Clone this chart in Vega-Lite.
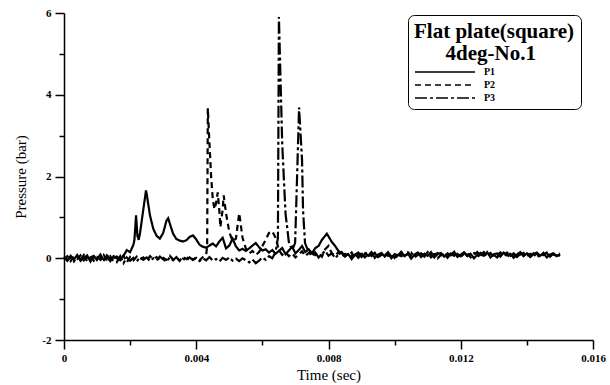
{
"$schema":"https://vega.github.io/schema/vega-lite/v6.json",
"width":529,"height":327,"autosize":"none",
"padding":{"left":64,"top":13,"right":17,"bottom":45},
"background":"white",
"config":{"view":{"stroke":null},"font":"Liberation Serif"},
"data":{"values":[
{"s":"P1","t":0.0000,"p":0.02},{"s":"P1","t":0.0001,"p":-0.05},{"s":"P1","t":0.0002,"p":0.06},{"s":"P1","t":0.0003,"p":-0.03},{"s":"P1","t":0.0004,"p":0.08},{"s":"P1","t":0.0005,"p":-0.06},{"s":"P1","t":0.0006,"p":0.01},{"s":"P1","t":0.0007,"p":0.07},{"s":"P1","t":0.0008,"p":-0.08},{"s":"P1","t":0.0009,"p":0.04},
{"s":"P1","t":0.0010,"p":-0.02},{"s":"P1","t":0.0011,"p":0.09},{"s":"P1","t":0.0012,"p":-0.04},{"s":"P1","t":0.0013,"p":0.03},{"s":"P1","t":0.0014,"p":-0.07},{"s":"P1","t":0.0015,"p":0.05},{"s":"P1","t":0.0016,"p":0.00},{"s":"P1","t":0.0017,"p":-0.05},{"s":"P1","t":0.0018,"p":0.06},{"s":"P1","t":0.0019,"p":0.2},
{"s":"P1","t":0.0020,"p":0.15},{"s":"P1","t":0.0021,"p":0.33},{"s":"P1","t":0.00213,"p":0.45},{"s":"P1","t":0.00218,"p":1.05},{"s":"P1","t":0.00222,"p":0.55},{"s":"P1","t":0.00226,"p":0.45},{"s":"P1","t":0.0023,"p":0.62},{"s":"P1","t":0.0024,"p":1.2},{"s":"P1","t":0.00248,"p":1.66},{"s":"P1","t":0.0025,"p":1.58},
{"s":"P1","t":0.0026,"p":1.05},{"s":"P1","t":0.0027,"p":0.72},{"s":"P1","t":0.0028,"p":0.55},{"s":"P1","t":0.0029,"p":0.48},{"s":"P1","t":0.0030,"p":0.62},{"s":"P1","t":0.0031,"p":0.92},{"s":"P1","t":0.00315,"p":0.98},{"s":"P1","t":0.0032,"p":0.85},{"s":"P1","t":0.0033,"p":0.6},{"s":"P1","t":0.0034,"p":0.47},
{"s":"P1","t":0.0035,"p":0.43},{"s":"P1","t":0.0036,"p":0.41},{"s":"P1","t":0.0037,"p":0.44},{"s":"P1","t":0.0038,"p":0.52},{"s":"P1","t":0.0039,"p":0.56},{"s":"P1","t":0.0040,"p":0.46},{"s":"P1","t":0.0041,"p":0.33},{"s":"P1","t":0.0042,"p":0.28},{"s":"P1","t":0.0043,"p":0.26},{"s":"P1","t":0.0044,"p":0.31},
{"s":"P1","t":0.0045,"p":0.36},{"s":"P1","t":0.0046,"p":0.29},{"s":"P1","t":0.0047,"p":0.41},{"s":"P1","t":0.0048,"p":0.5},{"s":"P1","t":0.0049,"p":0.24},{"s":"P1","t":0.0050,"p":0.31},{"s":"P1","t":0.0051,"p":0.48},{"s":"P1","t":0.0052,"p":0.29},{"s":"P1","t":0.0053,"p":0.19},{"s":"P1","t":0.0054,"p":0.23},
{"s":"P1","t":0.0055,"p":0.18},{"s":"P1","t":0.0056,"p":0.24},{"s":"P1","t":0.0057,"p":0.31},{"s":"P1","t":0.0058,"p":0.37},{"s":"P1","t":0.0059,"p":0.27},{"s":"P1","t":0.0060,"p":0.19},{"s":"P1","t":0.0061,"p":0.22},{"s":"P1","t":0.0062,"p":0.14},{"s":"P1","t":0.0063,"p":0.2},{"s":"P1","t":0.0064,"p":0.11},
{"s":"P1","t":0.0065,"p":0.18},{"s":"P1","t":0.0066,"p":0.25},{"s":"P1","t":0.0067,"p":0.1},{"s":"P1","t":0.0068,"p":0.19},{"s":"P1","t":0.0069,"p":0.28},{"s":"P1","t":0.0070,"p":0.12},{"s":"P1","t":0.0071,"p":0.2},{"s":"P1","t":0.0072,"p":0.3},{"s":"P1","t":0.0073,"p":0.15},{"s":"P1","t":0.0074,"p":0.22},
{"s":"P1","t":0.0075,"p":0.12},{"s":"P1","t":0.0076,"p":0.25},{"s":"P1","t":0.0077,"p":0.3},{"s":"P1","t":0.0078,"p":0.45},{"s":"P1","t":0.00795,"p":0.6},{"s":"P1","t":0.0081,"p":0.4},{"s":"P1","t":0.0082,"p":0.3},{"s":"P1","t":0.0083,"p":0.18},{"s":"P1","t":0.0084,"p":0.12},{"s":"P1","t":0.0085,"p":0.05},
{"s":"P1","t":0.0086,"p":0.1},{"s":"P1","t":0.0087,"p":-0.02},{"s":"P1","t":0.0088,"p":0.08},{"s":"P1","t":0.0089,"p":0.14},{"s":"P1","t":0.0090,"p":0.03},{"s":"P1","t":0.0091,"p":0.11},{"s":"P1","t":0.0092,"p":0.06},{"s":"P1","t":0.0093,"p":0.15},{"s":"P1","t":0.0094,"p":0.01},{"s":"P1","t":0.0095,"p":0.09},
{"s":"P1","t":0.0096,"p":0.13},{"s":"P1","t":0.0097,"p":0.04},{"s":"P1","t":0.0098,"p":0.12},{"s":"P1","t":0.0099,"p":0.0},{"s":"P1","t":0.0100,"p":0.1},{"s":"P1","t":0.0101,"p":0.07},{"s":"P1","t":0.0102,"p":0.16},{"s":"P1","t":0.0103,"p":0.05},{"s":"P1","t":0.0104,"p":0.12},{"s":"P1","t":0.0105,"p":-0.01},
{"s":"P1","t":0.0106,"p":0.09},{"s":"P1","t":0.0107,"p":0.14},{"s":"P1","t":0.0108,"p":0.03},{"s":"P1","t":0.0109,"p":0.11},{"s":"P1","t":0.0110,"p":0.06},{"s":"P1","t":0.0111,"p":0.15},{"s":"P1","t":0.0112,"p":0.02},{"s":"P1","t":0.0113,"p":0.1},{"s":"P1","t":0.0114,"p":0.13},{"s":"P1","t":0.0115,"p":0.04},
{"s":"P1","t":0.0116,"p":0.12},{"s":"P1","t":0.0117,"p":0.07},{"s":"P1","t":0.0118,"p":0.16},{"s":"P1","t":0.0119,"p":0.03},{"s":"P1","t":0.0120,"p":0.09},{"s":"P1","t":0.0121,"p":0.14},{"s":"P1","t":0.0122,"p":0.05},{"s":"P1","t":0.0123,"p":0.11},{"s":"P1","t":0.0124,"p":0.0},{"s":"P1","t":0.0125,"p":0.08},
{"s":"P1","t":0.0126,"p":0.13},{"s":"P1","t":0.0127,"p":0.06},{"s":"P1","t":0.0128,"p":0.15},{"s":"P1","t":0.0129,"p":0.02},{"s":"P1","t":0.0130,"p":0.1},{"s":"P1","t":0.0131,"p":0.12},{"s":"P1","t":0.0132,"p":0.04},{"s":"P1","t":0.0133,"p":0.14},{"s":"P1","t":0.0134,"p":0.07},{"s":"P1","t":0.0135,"p":0.11},
{"s":"P1","t":0.0136,"p":0.01},{"s":"P1","t":0.0137,"p":0.09},{"s":"P1","t":0.0138,"p":0.15},{"s":"P1","t":0.0139,"p":0.05},{"s":"P1","t":0.0140,"p":0.12},{"s":"P1","t":0.0141,"p":0.03},{"s":"P1","t":0.0142,"p":0.1},{"s":"P1","t":0.0143,"p":0.14},{"s":"P1","t":0.0144,"p":0.06},{"s":"P1","t":0.0145,"p":0.13},
{"s":"P1","t":0.0146,"p":0.02},{"s":"P1","t":0.0147,"p":0.09},{"s":"P1","t":0.0148,"p":0.12},{"s":"P1","t":0.0149,"p":0.05},{"s":"P1","t":0.0150,"p":0.1},

{"s":"P2","t":0.0000,"p":-0.03},{"s":"P2","t":0.0001,"p":0.05},{"s":"P2","t":0.0002,"p":-0.07},{"s":"P2","t":0.0003,"p":0.04},{"s":"P2","t":0.0004,"p":-0.02},{"s":"P2","t":0.0005,"p":0.07},{"s":"P2","t":0.0006,"p":-0.05},{"s":"P2","t":0.0007,"p":0.02},{"s":"P2","t":0.0008,"p":0.06},{"s":"P2","t":0.0009,"p":-0.06},
{"s":"P2","t":0.0010,"p":0.03},{"s":"P2","t":0.0011,"p":-0.04},{"s":"P2","t":0.0012,"p":0.08},{"s":"P2","t":0.0013,"p":-0.03},{"s":"P2","t":0.0014,"p":0.05},{"s":"P2","t":0.0015,"p":-0.08},{"s":"P2","t":0.0016,"p":0.04},{"s":"P2","t":0.0017,"p":-0.02},{"s":"P2","t":0.0018,"p":0.07},{"s":"P2","t":0.0019,"p":-0.1},
{"s":"P2","t":0.0020,"p":0.03},{"s":"P2","t":0.0021,"p":-0.05},{"s":"P2","t":0.0022,"p":0.04},{"s":"P2","t":0.0023,"p":-0.03},{"s":"P2","t":0.0024,"p":0.02},{"s":"P2","t":0.0025,"p":-0.06},{"s":"P2","t":0.0026,"p":0.05},{"s":"P2","t":0.0027,"p":-0.02},{"s":"P2","t":0.0028,"p":0.03},{"s":"P2","t":0.0029,"p":-0.05},
{"s":"P2","t":0.0030,"p":0.01},{"s":"P2","t":0.0031,"p":-0.04},{"s":"P2","t":0.0032,"p":0.06},{"s":"P2","t":0.0033,"p":-0.03},{"s":"P2","t":0.0034,"p":0.02},{"s":"P2","t":0.0035,"p":-0.06},{"s":"P2","t":0.0036,"p":0.04},{"s":"P2","t":0.0037,"p":-0.02},{"s":"P2","t":0.0038,"p":0.05},{"s":"P2","t":0.0039,"p":-0.04},
{"s":"P2","t":0.0040,"p":0.02},{"s":"P2","t":0.0041,"p":-0.05},{"s":"P2","t":0.0042,"p":0.03},{"s":"P2","t":0.0043,"p":0.08},{"s":"P2","t":0.00433,"p":0.3},{"s":"P2","t":0.00435,"p":3.67},{"s":"P2","t":0.0044,"p":2.8},{"s":"P2","t":0.00445,"p":2.0},{"s":"P2","t":0.0045,"p":1.45},{"s":"P2","t":0.00455,"p":1.2},
{"s":"P2","t":0.0046,"p":1.35},{"s":"P2","t":0.00465,"p":1.61},{"s":"P2","t":0.0047,"p":1.15},{"s":"P2","t":0.00473,"p":0.76},{"s":"P2","t":0.0048,"p":1.2},{"s":"P2","t":0.00483,"p":1.54},{"s":"P2","t":0.0049,"p":1.1},{"s":"P2","t":0.0050,"p":0.64},{"s":"P2","t":0.0051,"p":0.42},{"s":"P2","t":0.0052,"p":0.48},
{"s":"P2","t":0.00525,"p":0.8},{"s":"P2","t":0.0053,"p":1.1},{"s":"P2","t":0.0054,"p":0.5},{"s":"P2","t":0.0055,"p":0.24},{"s":"P2","t":0.0056,"p":0.12},{"s":"P2","t":0.0057,"p":0.18},{"s":"P2","t":0.0058,"p":0.08},{"s":"P2","t":0.0059,"p":0.15},{"s":"P2","t":0.0060,"p":0.3},{"s":"P2","t":0.0061,"p":0.45},
{"s":"P2","t":0.0062,"p":0.62},{"s":"P2","t":0.0063,"p":0.66},{"s":"P2","t":0.0064,"p":0.5},{"s":"P2","t":0.0065,"p":0.2},{"s":"P2","t":0.0066,"p":0.08},{"s":"P2","t":0.0067,"p":0.15},{"s":"P2","t":0.0068,"p":0.05},{"s":"P2","t":0.0069,"p":0.12},{"s":"P2","t":0.0070,"p":0.02},{"s":"P2","t":0.0071,"p":0.09},
{"s":"P2","t":0.0072,"p":0.17},{"s":"P2","t":0.0073,"p":0.05},{"s":"P2","t":0.0074,"p":0.13},{"s":"P2","t":0.0075,"p":0.2},{"s":"P2","t":0.0076,"p":0.08},{"s":"P2","t":0.0077,"p":0.14},{"s":"P2","t":0.0078,"p":0.04},{"s":"P2","t":0.0079,"p":0.22},{"s":"P2","t":0.0080,"p":0.3},{"s":"P2","t":0.0081,"p":0.12},
{"s":"P2","t":0.0082,"p":0.06},{"s":"P2","t":0.0083,"p":0.15},{"s":"P2","t":0.0084,"p":0.03},{"s":"P2","t":0.0085,"p":0.11},{"s":"P2","t":0.0086,"p":0.07},{"s":"P2","t":0.0087,"p":0.14},{"s":"P2","t":0.0088,"p":0.0},{"s":"P2","t":0.0089,"p":0.09},{"s":"P2","t":0.0090,"p":0.12},{"s":"P2","t":0.0091,"p":0.02},
{"s":"P2","t":0.0092,"p":0.1},{"s":"P2","t":0.0093,"p":0.05},{"s":"P2","t":0.0094,"p":0.13},{"s":"P2","t":0.0095,"p":0.03},{"s":"P2","t":0.0096,"p":0.08},{"s":"P2","t":0.0097,"p":0.14},{"s":"P2","t":0.0098,"p":0.06},{"s":"P2","t":0.0099,"p":0.11},{"s":"P2","t":0.0100,"p":0.01},{"s":"P2","t":0.0101,"p":0.13},
{"s":"P2","t":0.0102,"p":0.05},{"s":"P2","t":0.0103,"p":0.09},{"s":"P2","t":0.0104,"p":0.15},{"s":"P2","t":0.0105,"p":0.06},{"s":"P2","t":0.0106,"p":0.02},{"s":"P2","t":0.0107,"p":0.1},{"s":"P2","t":0.0108,"p":0.14},{"s":"P2","t":0.0109,"p":0.04},{"s":"P2","t":0.0110,"p":0.12},{"s":"P2","t":0.0111,"p":0.07},
{"s":"P2","t":0.0112,"p":0.1},{"s":"P2","t":0.0113,"p":0.0},{"s":"P2","t":0.0114,"p":0.08},{"s":"P2","t":0.0115,"p":0.13},{"s":"P2","t":0.0116,"p":0.03},{"s":"P2","t":0.0117,"p":0.11},{"s":"P2","t":0.0118,"p":0.06},{"s":"P2","t":0.0119,"p":0.14},{"s":"P2","t":0.0120,"p":0.05},{"s":"P2","t":0.0121,"p":0.1},
{"s":"P2","t":0.0122,"p":0.13},{"s":"P2","t":0.0123,"p":0.02},{"s":"P2","t":0.0124,"p":0.09},{"s":"P2","t":0.0125,"p":0.15},{"s":"P2","t":0.0126,"p":0.04},{"s":"P2","t":0.0127,"p":0.11},{"s":"P2","t":0.0128,"p":0.07},{"s":"P2","t":0.0129,"p":0.13},{"s":"P2","t":0.0130,"p":0.03},{"s":"P2","t":0.0131,"p":0.08},
{"s":"P2","t":0.0132,"p":0.14},{"s":"P2","t":0.0133,"p":0.06},{"s":"P2","t":0.0134,"p":0.1},{"s":"P2","t":0.0135,"p":0.02},{"s":"P2","t":0.0136,"p":0.12},{"s":"P2","t":0.0137,"p":0.05},{"s":"P2","t":0.0138,"p":0.09},{"s":"P2","t":0.0139,"p":0.13},{"s":"P2","t":0.0140,"p":0.04},{"s":"P2","t":0.0141,"p":0.11},
{"s":"P2","t":0.0142,"p":0.07},{"s":"P2","t":0.0143,"p":0.12},{"s":"P2","t":0.0144,"p":0.01},{"s":"P2","t":0.0145,"p":0.09},{"s":"P2","t":0.0146,"p":0.14},{"s":"P2","t":0.0147,"p":0.06},{"s":"P2","t":0.0148,"p":0.1},{"s":"P2","t":0.0149,"p":0.03},{"s":"P2","t":0.0150,"p":0.08},

{"s":"P3","t":0.0000,"p":0.04},{"s":"P3","t":0.0001,"p":-0.06},{"s":"P3","t":0.0002,"p":0.03},{"s":"P3","t":0.0003,"p":-0.08},{"s":"P3","t":0.0004,"p":0.05},{"s":"P3","t":0.0005,"p":-0.03},{"s":"P3","t":0.0006,"p":0.08},{"s":"P3","t":0.0007,"p":-0.07},{"s":"P3","t":0.0008,"p":0.02},{"s":"P3","t":0.0009,"p":0.06},
{"s":"P3","t":0.0010,"p":-0.05},{"s":"P3","t":0.0011,"p":0.01},{"s":"P3","t":0.0012,"p":-0.08},{"s":"P3","t":0.0013,"p":0.07},{"s":"P3","t":0.0014,"p":-0.02},{"s":"P3","t":0.0015,"p":0.04},{"s":"P3","t":0.0016,"p":-0.09},{"s":"P3","t":0.0017,"p":0.05},{"s":"P3","t":0.0018,"p":-0.12},{"s":"P3","t":0.0019,"p":0.02},
{"s":"P3","t":0.0020,"p":-0.06},{"s":"P3","t":0.0021,"p":0.01},{"s":"P3","t":0.0022,"p":-0.08},{"s":"P3","t":0.0023,"p":0.03},{"s":"P3","t":0.0024,"p":-0.04},{"s":"P3","t":0.0025,"p":0.02},{"s":"P3","t":0.0026,"p":-0.07},{"s":"P3","t":0.0027,"p":0.0},{"s":"P3","t":0.0028,"p":-0.05},{"s":"P3","t":0.0029,"p":0.04},
{"s":"P3","t":0.0030,"p":-0.03},{"s":"P3","t":0.0031,"p":-0.08},{"s":"P3","t":0.0032,"p":0.02},{"s":"P3","t":0.0033,"p":-0.05},{"s":"P3","t":0.0034,"p":0.03},{"s":"P3","t":0.0035,"p":-0.07},{"s":"P3","t":0.0036,"p":-0.01},{"s":"P3","t":0.0037,"p":-0.06},{"s":"P3","t":0.0038,"p":0.02},{"s":"P3","t":0.0039,"p":-0.04},
{"s":"P3","t":0.0040,"p":0.01},{"s":"P3","t":0.0041,"p":-0.07},{"s":"P3","t":0.0042,"p":0.0},{"s":"P3","t":0.0043,"p":-0.05},{"s":"P3","t":0.0044,"p":0.03},{"s":"P3","t":0.0045,"p":-0.06},{"s":"P3","t":0.0046,"p":-0.02},{"s":"P3","t":0.0047,"p":-0.08},{"s":"P3","t":0.0048,"p":0.01},{"s":"P3","t":0.0049,"p":-0.04},
{"s":"P3","t":0.0050,"p":0.02},{"s":"P3","t":0.0051,"p":-0.06},{"s":"P3","t":0.0052,"p":-0.01},{"s":"P3","t":0.0053,"p":-0.07},{"s":"P3","t":0.0054,"p":0.0},{"s":"P3","t":0.0055,"p":-0.05},{"s":"P3","t":0.0056,"p":-0.1},{"s":"P3","t":0.0057,"p":-0.03},{"s":"P3","t":0.0058,"p":-0.12},{"s":"P3","t":0.0059,"p":-0.06},
{"s":"P3","t":0.0060,"p":0.02},{"s":"P3","t":0.0061,"p":-0.04},{"s":"P3","t":0.0062,"p":0.05},{"s":"P3","t":0.0063,"p":0.0},{"s":"P3","t":0.0064,"p":0.15},{"s":"P3","t":0.00647,"p":0.5},{"s":"P3","t":0.0065,"p":5.9},{"s":"P3","t":0.0066,"p":2.8},{"s":"P3","t":0.0067,"p":1.1},{"s":"P3","t":0.0068,"p":0.4},
{"s":"P3","t":0.0069,"p":0.2},{"s":"P3","t":0.00699,"p":0.37},{"s":"P3","t":0.00705,"p":2.0},{"s":"P3","t":0.00711,"p":3.69},{"s":"P3","t":0.0072,"p":2.4},{"s":"P3","t":0.00723,"p":1.17},{"s":"P3","t":0.00729,"p":0.37},{"s":"P3","t":0.0074,"p":0.15},{"s":"P3","t":0.0075,"p":0.05},{"s":"P3","t":0.0076,"p":0.14},
{"s":"P3","t":0.0077,"p":0.02},{"s":"P3","t":0.0078,"p":0.1},{"s":"P3","t":0.0079,"p":0.18},{"s":"P3","t":0.0080,"p":0.06},{"s":"P3","t":0.0081,"p":0.12},{"s":"P3","t":0.0082,"p":0.0},{"s":"P3","t":0.0083,"p":0.09},{"s":"P3","t":0.0084,"p":0.15},{"s":"P3","t":0.0085,"p":0.04},{"s":"P3","t":0.0086,"p":0.12},
{"s":"P3","t":0.0087,"p":0.06},{"s":"P3","t":0.0088,"p":0.13},{"s":"P3","t":0.0089,"p":0.01},{"s":"P3","t":0.0090,"p":0.1},{"s":"P3","t":0.0091,"p":0.16},{"s":"P3","t":0.0092,"p":0.05},{"s":"P3","t":0.0093,"p":0.08},{"s":"P3","t":0.0094,"p":0.13},{"s":"P3","t":0.0095,"p":0.02},{"s":"P3","t":0.0096,"p":0.11},
{"s":"P3","t":0.0097,"p":0.07},{"s":"P3","t":0.0098,"p":0.15},{"s":"P3","t":0.0099,"p":0.04},{"s":"P3","t":0.0100,"p":0.09},{"s":"P3","t":0.0101,"p":0.0},{"s":"P3","t":0.0102,"p":0.12},{"s":"P3","t":0.0103,"p":0.06},{"s":"P3","t":0.0104,"p":0.1},{"s":"P3","t":0.0105,"p":0.14},{"s":"P3","t":0.0106,"p":0.03},
{"s":"P3","t":0.0107,"p":0.08},{"s":"P3","t":0.0108,"p":0.12},{"s":"P3","t":0.0109,"p":0.05},{"s":"P3","t":0.0110,"p":0.15},{"s":"P3","t":0.0111,"p":0.02},{"s":"P3","t":0.0112,"p":0.09},{"s":"P3","t":0.0113,"p":0.13},{"s":"P3","t":0.0114,"p":0.06},{"s":"P3","t":0.0115,"p":0.1},{"s":"P3","t":0.0116,"p":0.01},
{"s":"P3","t":0.0117,"p":0.12},{"s":"P3","t":0.0118,"p":0.08},{"s":"P3","t":0.0119,"p":0.11},{"s":"P3","t":0.0120,"p":0.03},{"s":"P3","t":0.0121,"p":0.14},{"s":"P3","t":0.0122,"p":0.07},{"s":"P3","t":0.0123,"p":0.1},{"s":"P3","t":0.0124,"p":0.13},{"s":"P3","t":0.0125,"p":0.04},{"s":"P3","t":0.0126,"p":0.09},
{"s":"P3","t":0.0127,"p":0.15},{"s":"P3","t":0.0128,"p":0.05},{"s":"P3","t":0.0129,"p":0.11},{"s":"P3","t":0.0130,"p":0.08},{"s":"P3","t":0.0131,"p":0.02},{"s":"P3","t":0.0132,"p":0.12},{"s":"P3","t":0.0133,"p":0.09},{"s":"P3","t":0.0134,"p":0.14},{"s":"P3","t":0.0135,"p":0.06},{"s":"P3","t":0.0136,"p":0.1},
{"s":"P3","t":0.0137,"p":0.03},{"s":"P3","t":0.0138,"p":0.11},{"s":"P3","t":0.0139,"p":0.07},{"s":"P3","t":0.0140,"p":0.13},{"s":"P3","t":0.0141,"p":0.05},{"s":"P3","t":0.0142,"p":0.12},{"s":"P3","t":0.0143,"p":0.02},{"s":"P3","t":0.0144,"p":0.1},{"s":"P3","t":0.0145,"p":0.08},{"s":"P3","t":0.0146,"p":0.13},
{"s":"P3","t":0.0147,"p":0.04},{"s":"P3","t":0.0148,"p":0.11},{"s":"P3","t":0.0149,"p":0.07},{"s":"P3","t":0.0150,"p":0.12}
]},
"mark":{"type":"line","color":"black","strokeWidth":2.2,"interpolate":"linear"},
"encoding":{
"x":{"field":"t","type":"quantitative","scale":{"domain":[0,0.016],"nice":false,"zero":false},
 "axis":{"title":"Time (sec)","values":[0,0.002,0.004,0.006,0.008,0.01,0.012,0.014,0.016],
  "labelExpr":"round(datum.value*1000)%4==0 ? (datum.value==0 ? '0' : format(datum.value,'.3f')) : ''",
  "tickSize":{"condition":{"test":"round(datum.value*1000)%4!=0","value":5},"value":9},
  "grid":false,"domainColor":"black","domainWidth":1.5,"tickColor":"black","tickWidth":1.5,
  "labelFont":"Liberation Serif","labelFontSize":11,"labelFontWeight":"bold","labelColor":"black","labelPadding":3,
  "titleFont":"Liberation Serif","titleFontSize":15,"titleFontWeight":"normal","titleColor":"black","titlePadding":4,"labelFlush":false}},
"y":{"field":"p","type":"quantitative","scale":{"domain":[-2,6],"nice":false,"zero":false},
 "axis":{"title":"Pressure (bar)","values":[-2,-1,0,1,2,3,4,5,6],
  "labelExpr":"datum.value%2==0 ? ''+datum.value : ''",
  "tickSize":{"condition":{"test":"datum.value%2!=0","value":5},"value":9},
  "grid":false,"domainColor":"black","domainWidth":1.5,"tickColor":"black","tickWidth":1.5,
  "labelFont":"Liberation Serif","labelFontSize":11,"labelFontWeight":"bold","labelColor":"black","labelPadding":4,
  "titleFont":"Liberation Serif","titleFontSize":15,"titleFontWeight":"normal","titleColor":"black","titlePadding":13}},
"strokeDash":{"field":"s","type":"nominal",
 "scale":{"domain":["P1","P2","P3"],"range":[[1,0],[6,4],[12,3,3,3]]},
 "legend":{"orient":"none","legendX":344,"legendY":2,
  "title":["Flat plate(square)","\u200b\u00a0\u00a0\u00a0\u00a0\u00a0\u00a04deg-No.1"],"titleFont":"Liberation Serif","titleFontSize":21,"titleFontWeight":"bold","titleColor":"black","titleAlign":"left","titleAnchor":"start","titleLineHeight":22,"titlePadding":1,
  "symbolType":"M-1,0H9","symbolSize":144,"symbolStrokeWidth":1.5,"symbolStrokeColor":"black",
  "labelFont":"Liberation Serif","labelFontSize":10,"labelFontWeight":"bold","labelColor":"black","labelOffset":56,
  "rowPadding":1,"strokeColor":"black","cornerRadius":6,"fillColor":"white","padding":6}}
}
}
